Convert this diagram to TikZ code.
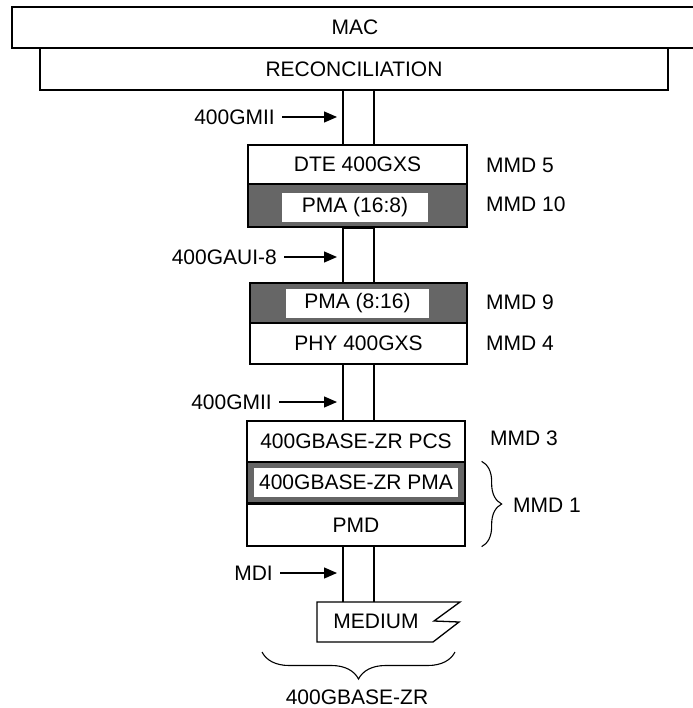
\documentclass[tikz,border=0pt]{standalone}
\usepackage{fontspec}
\setmainfont{Liberation Sans}
\usetikzlibrary{arrows.meta,decorations.pathreplacing}
\tikzset{
  layer/.style={draw, line width=1.3pt, inner sep=0pt, minimum width=219pt, minimum height=41pt},
  grey layer/.style={layer, fill=black!60},
  window/.style={fill=white, inner sep=0pt, minimum height=29pt},
  iface/.style={inner sep=0pt, anchor=east},
  mmd/.style={inner sep=0pt, anchor=west},
  ptr/.style={-{Triangle[length=13pt,width=11pt]}, line width=1.2pt, shorten >=6pt, shorten <=7pt},
  rail/.style={line width=1.3pt},
  brc/.style={decorate, decoration={brace, amplitude=#1}, line width=1.1pt},
}
\begin{document}
\begin{tikzpicture}[x=1pt, y=-1pt, font=\fontsize{21}{25}\selectfont]
    \useasboundingbox (0,0) rectangle (692,708);
    \coordinate (cl) at (343,0);
    \coordinate (cr) at (374,0);

    \node[layer, minimum width=686pt] (mac) at (355,27.5) {MAC};
    \node[layer, minimum width=628pt, minimum height=42pt] (recon) at (354,69) {RECONCILIATION};

    \node[layer, minimum height=39pt] (dte) at (357.5,164.5) {DTE 400GXS};
    \node[grey layer, minimum height=43pt] (pma16) at (357.5,205.5) {};
    \node[window, minimum width=146pt] (pma16w) at (355,207.5) {PMA (16:8)};

    \node[grey layer, minimum width=217pt, minimum height=40pt] (pma8) at (358.5,303) {};
    \node[window, minimum width=143pt] (pma8w) at (357.5,303.5) {PMA (8:16)};
    \node[layer, minimum width=217pt] (phy) at (358.5,343.5) {PHY 400GXS};

    \node[layer, minimum width=218pt] (pcs) at (356,441.5) {400GBASE-ZR PCS};
    \node[grey layer, minimum width=218pt, minimum height=42pt] (zrpma) at (356,483) {};
    \node[window, minimum width=204pt] (zrpmaw) at (356,482.5) {400GBASE-ZR PMA};
    \node[layer, minimum width=218pt, minimum height=42pt] (pmd) at (356,525) {PMD};
    \draw[line width=3pt] ([yshift=1.5pt]zrpma.south west) -- ([yshift=1.5pt]zrpma.south east);

    \draw[rail] (317,602) -- (460,602) -- (434,621) -- (459,622) -- (433,642) -- (317,642) -- cycle;
    \coordinate (medtop) at (358,602);
    \node (medium) at (376,621) {MEDIUM};

    \foreach \c in {cl,cr} {
        \draw[rail] (recon.south -| \c) -- (dte.north -| \c);
        \draw[rail] (pma16.south -| \c) -- (pma8.north -| \c);
        \draw[rail] (phy.south -| \c) -- (pcs.north -| \c);
        \draw[rail] (pmd.south -| \c) -- (medtop -| \c);
    }
    \draw[line width=3.5pt] (pma16.south -| cl) -- (pma16.south -| cr);

    \node[iface] (gmiia) at (275,117) {400GMII};
    \node[iface] (aui) at (277,257) {400GAUI-8};
    \node[iface] (gmiib) at (272,402) {400GMII};
    \node[iface] (mdi) at (273,573) {MDI};
    \foreach \n in {gmiia,aui,gmiib,mdi}
        \draw[ptr] (\n.east) -- (\n.east -| cl);

    \node[mmd] (mmd5) at (486,165) {MMD 5};
    \node[mmd] (mmd10) at (486,204) {MMD 10};
    \node[mmd] (mmd9) at (486,302) {MMD 9};
    \node[mmd] (mmd4) at (486,343) {MMD 4};
    \node[mmd] (mmd3) at (490,438) {MMD 3};
    \node[mmd] (mmd1) at (513,505) {MMD 1};

    \draw[brc=20pt] ([xshift=16pt]zrpma.north east) -- ([xshift=16pt]pmd.south east);

    \coordinate (bl) at (262,652);
    \coordinate (br) at (455,652);
    \draw[brc=27pt] (br) -- (bl);
    \node (zr) at (357,697) {400GBASE-ZR};
\end{tikzpicture}
\end{document}
